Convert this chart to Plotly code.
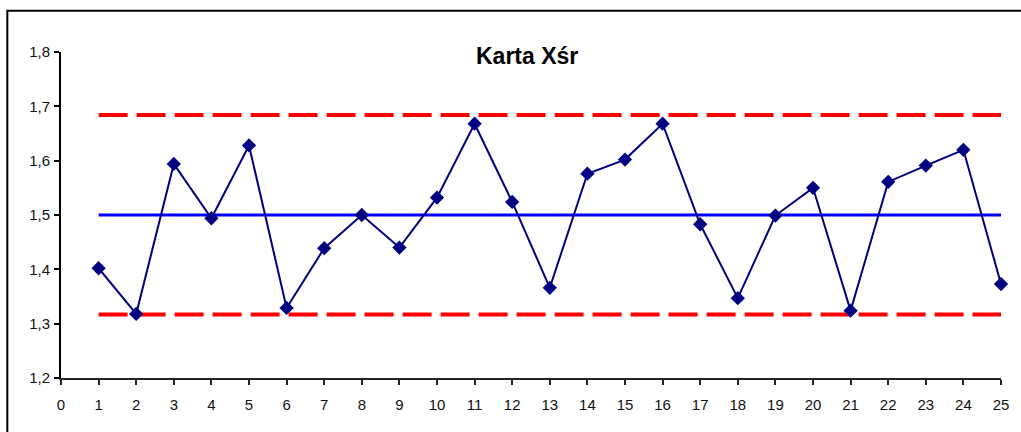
import plotly.graph_objects as go

# Sample numbers and subgroup means for the X-bar control chart
samples = list(range(1, 26))
means = [1.402, 1.318, 1.594, 1.494, 1.628, 1.329, 1.439, 1.500, 1.440, 1.532,
         1.668, 1.524, 1.366, 1.576, 1.602, 1.668, 1.483, 1.347, 1.499, 1.550,
         1.324, 1.561, 1.591, 1.620, 1.373]

# Control limits and centre line
ucl = 1.684
center = 1.500
lcl = 1.317

y_ticks = [1.2, 1.3, 1.4, 1.5, 1.6, 1.7, 1.8]
x_ticks = list(range(0, 26))

FONT = "Arial, Liberation Sans, sans-serif"

fig = go.Figure()

# Upper and lower control limits (red dashed)
for lim in (ucl, lcl):
    fig.add_trace(go.Scatter(
        x=samples, y=[lim] * len(samples), mode="lines",
        line=dict(color="#FF0000", width=4, dash="29px,9px"),
        hoverinfo="skip", showlegend=False, cliponaxis=False,
    ))

# Centre line (blue)
fig.add_trace(go.Scatter(
    x=samples, y=[center] * len(samples), mode="lines",
    line=dict(color="#0000FF", width=3),
    hoverinfo="skip", showlegend=False, cliponaxis=False,
))

# Sample means
fig.add_trace(go.Scatter(
    x=samples, y=means, mode="lines+markers",
    line=dict(color="#000080", width=2),
    marker=dict(symbol="diamond", size=11, color="#000080"),
    showlegend=False, cliponaxis=False,
))

fig.update_layout(
    width=1021, height=432,
    margin=dict(l=61, r=14, t=52, b=54, pad=0),
    paper_bgcolor="white", plot_bgcolor="white",
    separators=",.",
    font=dict(family=FONT, size=15, color="#000000"),
    showlegend=False,
    annotations=[dict(
        text="<b>Karta Xśr</b>", xref="paper", yref="paper",
        x=0.4956, y=0.988, xanchor="center", yanchor="middle",
        showarrow=False, font=dict(family=FONT, size=23, color="#000000"),
    )],
    shapes=[dict(
        type="rect", xref="paper", yref="paper",
        x0=-0.0571, x1=1.03, y0=-0.25, y1=1.1267,
        line=dict(color="#000000", width=2), fillcolor="rgba(0,0,0,0)",
        layer="below",
    )],
)

fig.update_xaxes(
    range=[0, 25], tickvals=x_ticks, ticktext=[str(v) for v in x_ticks],
    showgrid=False, zeroline=False,
    showline=True, linecolor="#222222", linewidth=1.5,
    ticks="outside", ticklen=5, tickwidth=1.5, tickcolor="#222222",
    ticklabelstandoff=7,
    tickfont=dict(family=FONT, size=15, color="#111111"),
)
fig.update_yaxes(
    range=[1.2, 1.8], tickvals=y_ticks, tickformat=".1f",
    showgrid=False, zeroline=False,
    showline=True, linecolor="#000000", linewidth=2,
    ticks="outside", ticklen=5, tickwidth=1.5, tickcolor="#000000",
    ticklabelstandoff=1,
    tickfont=dict(family=FONT, size=15, color="#111111"),
)

fig.write_html("out.html")
